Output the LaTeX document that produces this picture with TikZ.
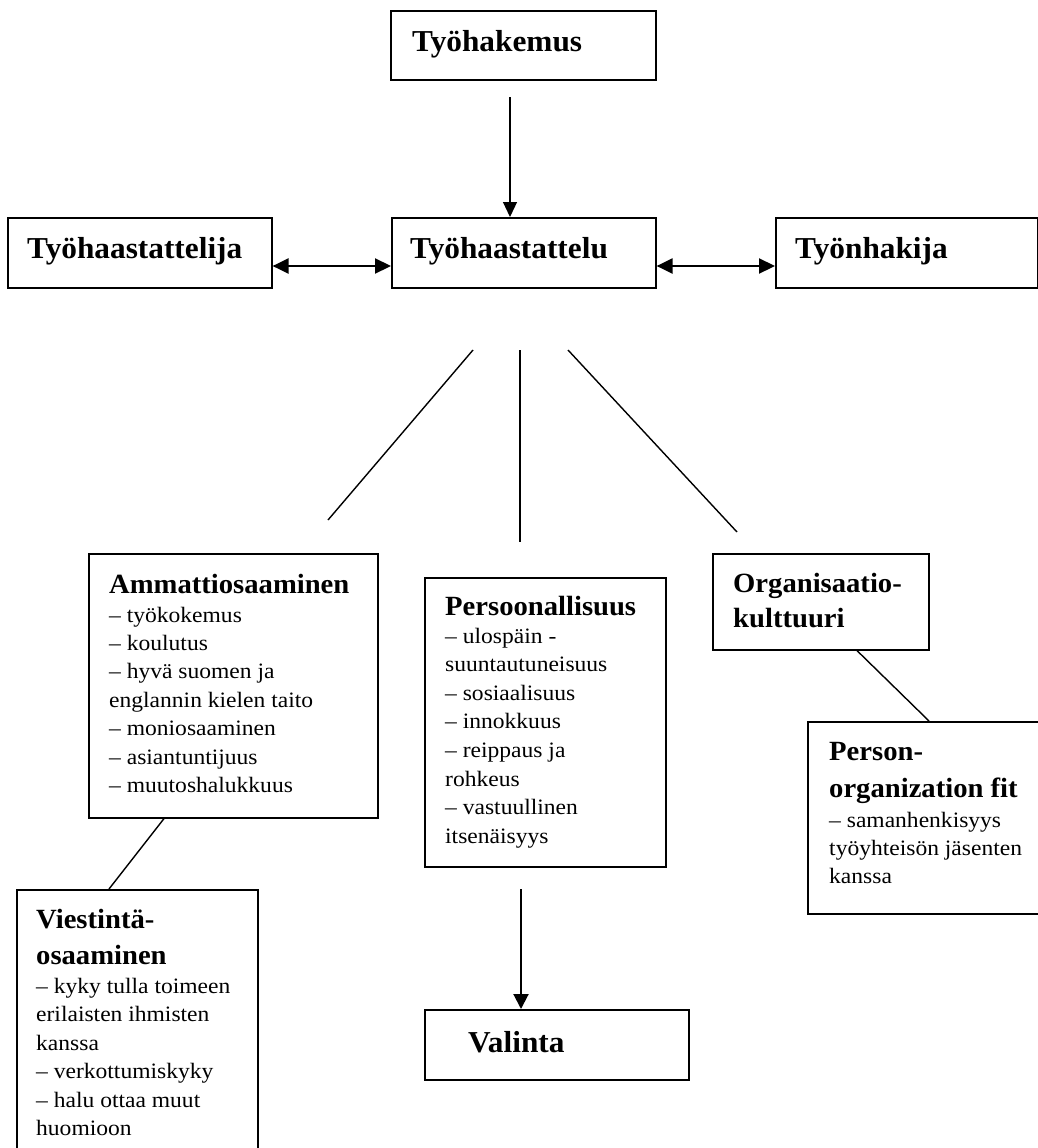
\documentclass[tikz,border=0pt]{standalone}
\usepackage{fontspec}
\setmainfont{Liberation Serif}[FakeStretch=1.03]
\newfontfamily\bodyff{Liberation Serif}[FakeStretch=1.07]
\usetikzlibrary{arrows.meta}
\newcommand\bodyfont{\bodyff\fontsize{22}{28.4}\selectfont}
\newcommand\topfont{\rmfamily\fontsize{30.4}{32}\selectfont\bfseries}
\newcommand\ttlfont{\rmfamily\fontsize{27.8}{30}\selectfont\bfseries}
\newcommand\linesbox[1]{\vtop{\lineskiplimit=-100pt\lineskip=0pt\relax #1}}
\tikzset{
  box/.style={draw, line width=1.6pt, anchor=north west, inner sep=0pt, rectangle},
  txt/.style={anchor=base west, inner sep=0pt, font=\bodyfont, align=left},
  conn/.style={line width=1.4pt},
  thinarrow/.style={line width=1.2pt, -{Triangle[width=14pt,length=15pt]}},
  thickarrow/.style={line width=2pt, -{Triangle[width=15pt,length=15pt]}},
  dblarrow/.style={line width=2.2pt, {Triangle[width=15pt,length=16pt]}-{Triangle[width=15pt,length=16pt]}}
}
\begin{document}
\begin{tikzpicture}[x=1pt,y=-1pt]
\useasboundingbox (0,0) rectangle (1038,1148);
% top boxes
\node[box, minimum width=265pt, minimum height=69pt] (hak) at (390,10) {};
\node[box, minimum width=264pt, minimum height=70pt] (hja) at (7,217) {};
\node[box, minimum width=264pt, minimum height=70pt] (haa) at (391,217) {};
\node[box, minimum width=261.5pt, minimum height=70pt] (hki) at (775,217) {};
\node[txt] (hak-t) at (412,52) {\topfont Työhakemus};
\node[txt] (hja-t) at (27,258) {\topfont Työhaastattelija};
\node[txt] (haa-t) at (410,258) {\topfont Työhaastattelu};
\node[txt] (hki-t) at (795,258) {\topfont Työnhakija};
% lower boxes
\node[box, minimum width=289pt, minimum height=264pt] (amm) at (88,553) {};
\node[box, minimum width=241pt, minimum height=289pt] (per) at (424,577) {};
\node[box, minimum width=216pt, minimum height=96pt] (org) at (712,553) {};
\node[box, minimum width=240pt, minimum height=192pt] (pof) at (807,721) {};
\node[box, minimum width=241pt, minimum height=270pt] (vie) at (16,889) {};
\node[box, minimum width=264pt, minimum height=70pt] (val) at (424,1009) {};
% texts
\node[txt] (amm-t) at (109,593) {\linesbox{\hbox{\ttlfont Ammattiosaaminen}\baselineskip=29pt
  \hbox{– työkokemus}\baselineskip=28.4pt
  \hbox{– koulutus}
  \hbox{– hyvä suomen ja}
  \hbox{englannin kielen taito}
  \hbox{– moniosaaminen}
  \hbox{– asiantuntijuus}
  \hbox{– muutoshalukkuus}}};
\node[txt] (per-t) at (445,615) {\linesbox{\hbox{\ttlfont Persoonallisuus}\baselineskip=28pt
  \hbox{– ulospäin -}\baselineskip=28.6pt
  \hbox{suuntautuneisuus}
  \hbox{– sosiaalisuus}
  \hbox{– innokkuus}
  \hbox{– reippaus ja}
  \hbox{rohkeus}
  \hbox{– vastuullinen}
  \hbox{itsenäisyys}}};
\node[txt] (org-t) at (733,592) {\linesbox{\baselineskip=35pt
  \hbox{\ttlfont Organisaatio-}
  \hbox{\ttlfont kulttuuri}}};
\node[txt] (pof-t) at (829,760) {\linesbox{\baselineskip=37pt
  \hbox{\ttlfont Person-}
  \hbox{\ttlfont organization fit}\baselineskip=30pt
  \hbox{– samanhenkisyys}\baselineskip=28.2pt
  \hbox{työyhteisön jäsenten}
  \hbox{kanssa}}};
\node[txt] (vie-t) at (36,928) {\linesbox{\baselineskip=36pt
  \hbox{\ttlfont Viestintä-}
  \hbox{\ttlfont osaaminen}\baselineskip=29pt
  \hbox{– kyky tulla toimeen}\baselineskip=28.5pt
  \hbox{erilaisten ihmisten}
  \hbox{kanssa}
  \hbox{– verkottumiskyky}
  \hbox{– halu ottaa muut}
  \hbox{huomioon}}};
\node[txt] (val-t) at (468,1052) {\topfont Valinta};
% connector anchors
\coordinate (a0) at (510,97);
\coordinate (y2) at (0,266);
\coordinate (l1a) at (473,350);
\coordinate (l1b) at (328,520);
\coordinate (l2a) at (520,350);
\coordinate (l2b) at (520,542);
\coordinate (l3a) at (568,350);
\coordinate (l3b) at (737,532);
\coordinate (c1) at (164,0);
\coordinate (c2) at (109,0);
\coordinate (c3) at (857,0);
\coordinate (c4) at (929,0);
\coordinate (a5) at (521,889);
% connectors
\draw[thinarrow] (a0) -- (a0 |- haa.north);
\draw[dblarrow] (hja.east |- y2) -- (haa.west |- y2);
\draw[dblarrow] (haa.east |- y2) -- (hki.west |- y2);
\draw[conn] (l1a) -- (l1b);
\draw[conn] (l2a) -- (l2b);
\draw[conn] (l3a) -- (l3b);
\draw[conn] (amm.south -| c1) -- (vie.north -| c2);
\draw[conn] (org.south -| c3) -- (pof.north -| c4);
\draw[thickarrow] (a5) -- (a5 |- val.north);
\end{tikzpicture}
\end{document}
